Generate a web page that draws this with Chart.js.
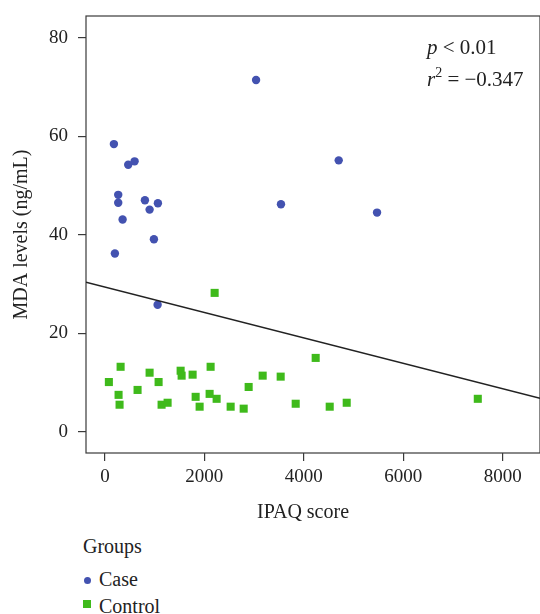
<!DOCTYPE html>
<html>
<head>
<meta charset="utf-8">
<script src="https://cdn.jsdelivr.net/npm/chart.js@4"></script>
<style>
  body { margin: 0; background: #fff; }
  #wrap { position: relative; width: 540px; height: 614px; overflow: hidden; font-family: "Liberation Serif", "DejaVu Serif", serif; color: #222; }
  #chart { position: absolute; left: 0; top: 0; }
  .txt { position: absolute; font-size: 20px; line-height: 1; white-space: nowrap; }
  .note { font-size: 21px; }
  .txt sup { font-size: 14px; line-height: 0; position: relative; top: -1px; }
  .mark { position: absolute; }
</style>
</head>
<body>
<div id="wrap">
  <canvas id="chart" width="540" height="535"></canvas>
  <div class="txt note" style="left:427px; top:37px;"><i>p</i> &lt; 0.01</div>
  <div class="txt note" style="left:427px; top:69px;"><i>r</i><sup>2</sup> = &minus;0.347</div>
  <div class="txt" id="xTitle" style="left:257px; top:501px;"></div>
  <div class="txt" style="left:83px; top:536px;">Groups</div>
  <div class="mark" id="caseMark" style="left:84px; top:577px; width:7px; height:7px; border-radius:50%;"></div>
  <div class="txt" style="left:99px; top:569px;">Case</div>
  <div class="mark" id="controlMark" style="left:83px; top:600px; width:8px; height:8px;"></div>
  <div class="txt" style="left:99px; top:596px;">Control</div>
</div>
<script>
// Case group (blue circles)
const caseX = [3040, 181, 469, 597, 4702, 268, 268, 805, 1066, 899, 3541, 5473, 356, 986, 201, 1060];
const caseY = [71.4, 58.4, 54.2, 54.9, 55.1, 48.1, 46.5, 47.0, 46.4, 45.1, 46.2, 44.5, 43.1, 39.1, 36.2, 25.8];

// Control group (green squares)
const controlX = [2207, 4239, 316, 899, 1523, 1543, 1764, 2126, 3173, 3535, 80, 1080, 657, 2891,
                  275, 2106, 1825, 2247, 295, 1140, 1261, 1905, 2529, 2791, 3837, 4521, 4863, 7499];
const controlY = [28.2, 15.0, 13.2, 12.0, 12.4, 11.4, 11.6, 13.2, 11.4, 11.2, 10.1, 10.1, 8.5, 9.1,
                  7.5, 7.7, 7.1, 6.7, 5.5, 5.5, 5.9, 5.1, 5.1, 4.7, 5.7, 5.1, 5.9, 6.7];

// fitted line y = a + b*x
const fitIntercept = 29.4;
const fitSlope = -0.00258;

const xTicks = [0, 2000, 4000, 6000, 8000];
const yTicks = [0, 20, 40, 60, 80];
const xRange = [-380, 8750];
const yRange = [-4.3, 84.4];

const caseColor = '#4352b0';
const controlColor = '#3fba1b';
const axisColor = '#3a3a3a';

document.getElementById('caseMark').style.background = caseColor;
document.getElementById('controlMark').style.background = controlColor;
document.getElementById('xTitle').textContent = 'IPAQ score';

const toPoints = (xs, ys) => xs.map((x, i) => ({ x: x, y: ys[i] }));
const fitLine = xRange.map(x => ({ x: x, y: fitIntercept + fitSlope * x }));

// box around the plot area
const frame = {
    id: 'frame',
    beforeDatasetsDraw(chart) {
        const a = chart.chartArea;
        const ctx = chart.ctx;
        ctx.save();
        ctx.strokeStyle = axisColor;
        ctx.lineWidth = 1.2;
        ctx.strokeRect(a.left, a.top, a.right - a.left, a.bottom - a.top);
        ctx.restore();
    }
};

const tickFont = { family: '"Liberation Serif", "DejaVu Serif", serif', size: 19 };
const titleFont = { family: '"Liberation Serif", "DejaVu Serif", serif', size: 20 };

new Chart(document.getElementById('chart'), {
    type: 'scatter',
    data: {
        datasets: [
            {
                type: 'line',
                label: 'fit',
                data: fitLine,
                borderColor: '#222',
                borderWidth: 1.5,
                pointRadius: 0,
                fill: false
            },
            {
                label: 'Case',
                data: toPoints(caseX, caseY),
                pointStyle: 'circle',
                pointRadius: 4.2,
                pointBorderWidth: 0,
                backgroundColor: caseColor,
                borderColor: caseColor
            },
            {
                label: 'Control',
                data: toPoints(controlX, controlY),
                pointStyle: 'rect',
                pointRadius: 5.7,
                pointBorderWidth: 0,
                backgroundColor: controlColor,
                borderColor: controlColor
            }
        ]
    },
    options: {
        responsive: false,
        animation: false,
        layout: { autoPadding: false, padding: { top: 16, left: 0, right: 0, bottom: 0 } },
        plugins: { legend: { display: false }, tooltip: { enabled: false } },
        scales: {
            x: {
                type: 'linear',
                min: xRange[0],
                max: xRange[1],
                afterBuildTicks: axis => { axis.ticks = xTicks.map(v => ({ value: v })); },
                afterFit: axis => { axis.height = 82; axis.paddingLeft = 0; axis.paddingRight = 0; },
                grid: { drawOnChartArea: false, drawTicks: true, tickLength: 8, color: axisColor, lineWidth: 1.2 },
                border: { display: false },
                ticks: { color: '#222', font: tickFont, padding: 5, maxRotation: 0, callback: v => v }
            },
            y: {
                type: 'linear',
                min: yRange[0],
                max: yRange[1],
                afterBuildTicks: axis => { axis.ticks = yTicks.map(v => ({ value: v })); },
                afterFit: axis => { axis.width = 86; axis.paddingTop = 0; axis.paddingBottom = 0; },
                grid: { drawOnChartArea: false, drawTicks: true, tickLength: 8, color: axisColor, lineWidth: 1.2 },
                border: { display: false },
                ticks: { color: '#222', font: tickFont, padding: 10, callback: v => v },
                title: { display: true, text: 'MDA levels (ng/mL)', color: '#222', font: titleFont, padding: { top: 10, bottom: 0 } }
            }
        }
    },
    plugins: [frame]
});
</script>
</body>
</html>
